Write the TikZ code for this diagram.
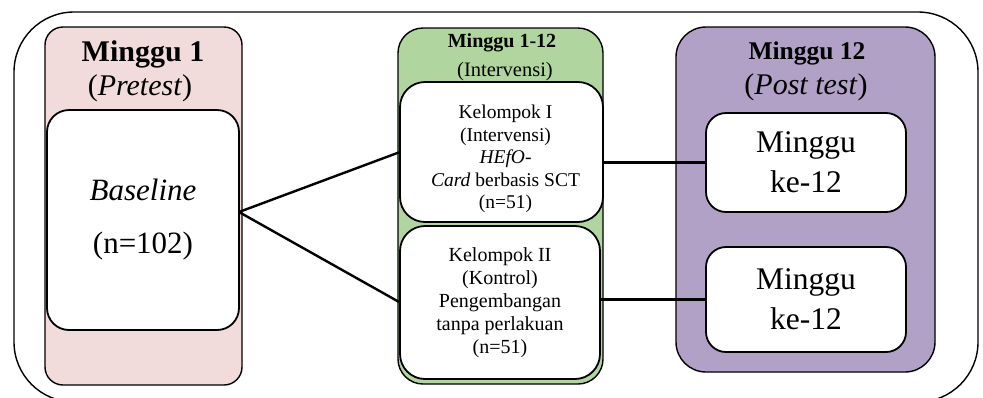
\documentclass[tikz,border=0pt]{standalone}
\usepackage{fontspec}
\setmainfont{Liberation Serif}

\definecolor{pinkfill}{RGB}{242,220,219}
\definecolor{greenfill}{RGB}{176,213,158}
\definecolor{purplefill}{RGB}{178,161,199}

\tikzset{
  panel/.style={draw, line width=1.4pt, rectangle, rounded corners=#1,
    inner sep=0pt, outer sep=0pt},
  whitebox/.style={draw, fill=white, line width=1.8pt, rectangle,
    rounded corners=#1, align=center, inner sep=0pt, outer sep=0pt},
  link/.style={line width=2.4pt},
}

\begin{document}
\begin{tikzpicture}[x=1pt,y=-1pt]

\path[use as bounding box, clip](0,0) rectangle (983,397);

%% frame
\node[panel=60pt, minimum width=964pt, minimum height=390pt](frame) at (496,207){};

%% pretest
\node[panel=18pt, fill=pinkfill, minimum width=197pt, minimum height=358pt](pre) at (143.5,206){};
\node[font=\fontsize{30}{36}\selectfont\bfseries](pretitle) at (143,54){Minggu 1};
\node[font=\fontsize{30}{36}\selectfont](presub) at (140,88){(\textit{Pretest})};
\node[whitebox=22pt, minimum width=192pt, minimum height=220pt,
  font=\fontsize{31}{37}\selectfont](base) at (143,220)
  {\textit{Baseline}\\[16pt](n=102)};

%% intervensi
\node[panel=25pt, fill=greenfill, minimum width=205pt, minimum height=356pt](mid) at (500.5,206){};
\node[font=\fontsize{20}{24}\selectfont\bfseries](midtitle) at (502,43){Minggu 1-12};
\node[font=\fontsize{20.5}{24}\selectfont](midsub) at (505,72){(Intervensi)};
\node[whitebox=25pt, minimum width=203pt, minimum height=140pt](k1) at (501.5,152){};
\node[align=center, font=\fontsize{19.5}{22.5}\selectfont](k1text) at ([xshift=4pt,yshift=-7pt]k1.center)
  {Kelompok I\\(Intervensi)\\\textit{HEfO-}\\\textit{Card} berbasis SCT\\(n=51)};
\node[whitebox=25pt, minimum width=200pt, minimum height=153pt,
  font=\fontsize{20}{23}\selectfont](k2) at (500,302.5)
  {Kelompok II\\(Kontrol)\\Pengembangan\\tanpa perlakuan\\(n=51)};

%% post test
\node[panel=30pt, fill=purplefill, minimum width=259pt, minimum height=345pt](post) at (805.5,199.5){};
\node[font=\fontsize{25.5}{30}\selectfont\bfseries](posttitle) at (807,53){Minggu 12};
\node[font=\fontsize{30}{36}\selectfont](postsub) at (806,87){(\textit{Post test})};
\node[whitebox=20pt, minimum width=200pt, minimum height=99pt,
  font=\fontsize{31.5}{40}\selectfont](m1) at (806,162.5){Minggu\\ke-12};
\node[whitebox=20pt, minimum width=200pt, minimum height=105pt,
  font=\fontsize{31.5}{40}\selectfont](m2) at (806,299.5){Minggu\\ke-12};

%% links
\draw[link]([yshift=8pt]base.east)--(k1.west);
\draw[link]([yshift=8pt]base.east)--(k2.west);
\draw[link](m1.west -| k1.east)--(m1.west);
\draw[link](m2.west -| k2.east)--(m2.west);

\end{tikzpicture}
\end{document}
